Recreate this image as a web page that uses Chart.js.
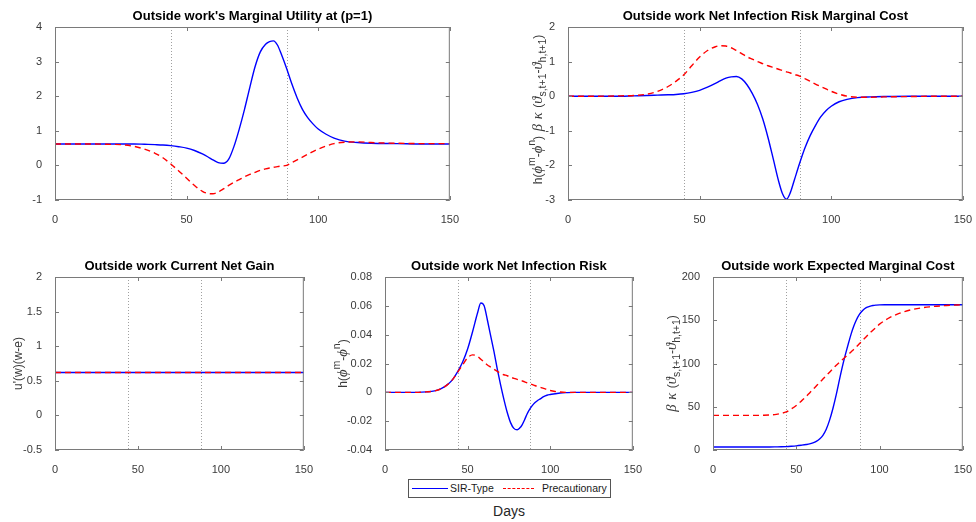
<!DOCTYPE html>
<html>
<head>
<meta charset="utf-8">
<script src="https://cdn.jsdelivr.net/npm/chart.js@4.4.1/dist/chart.umd.min.js"></script>
<style>
	body { margin: 0; background: #fff; width: 976px; height: 522px; position: relative; overflow: hidden; font-family: 'Liberation Sans', Arial, sans-serif; }
	canvas.panel { position: absolute; }
	#legend { position: absolute; left: 408px; top: 479px; width: 201px; height: 17px; border: 1px solid #555; box-sizing: content-box; font-size: 10.5px; color: #1a1a1a; }
	#legend .sample { position: absolute; top: 8px; height: 0; }
	#legend .txt { position: absolute; top: 2px; line-height: 13px; }
	#xlabel { position: absolute; left: 459px; width: 100px; top: 503px; text-align: center; font-size: 14px; color: #262626; }
</style>
</head>
<body>
<canvas class="panel" id="utilityChart"></canvas>
<canvas class="panel" id="riskCostChart"></canvas>
<canvas class="panel" id="gainChart"></canvas>
<canvas class="panel" id="riskChart"></canvas>
<canvas class="panel" id="costChart"></canvas>

<div id="legend">
	<div class="sample" style="left:3px;width:36px;border-top:1.5px solid #0000ff;"></div>
	<div class="txt" style="left:41px;">SIR-Type</div>
	<div class="sample" style="left:94px;width:31px;border-top:1.5px dashed #ff0000;"></div>
	<div class="txt" style="left:133px;">Precautionary</div>
</div>
<div id="xlabel">Days</div>

<script>
// day grid shared by the simulated series (denser around the epidemic peak)
const days = [0, 10, 20, 25, 30, 34, 38, 41, 44, 47, 50, 53, 56, 58, 60, 62, 64, 66, 68, 70, 72, 74, 76, 78, 80, 81.5, 83, 84.5, 86, 88, 90, 92, 94, 96, 98, 100, 103, 106, 110, 115, 120, 130, 140, 150];

// policy dates marked with dotted lines
const markerDays = [44, 88];

// marginal utility of outside work
const utilitySir = [0.62, 0.62, 0.62, 0.62, 0.62, 0.61, 0.60, 0.59, 0.57, 0.54, 0.50, 0.43, 0.33, 0.25, 0.16, 0.08, 0.06, 0.18, 0.55, 1.05, 1.62, 2.25, 2.85, 3.28, 3.50, 3.575, 3.60, 3.48, 3.21, 2.80, 2.35, 1.95, 1.62, 1.38, 1.20, 1.05, 0.90, 0.79, 0.70, 0.66, 0.64, 0.63, 0.62, 0.62];
const utilityPrec = [0.62, 0.62, 0.61, 0.60, 0.55, 0.47, 0.35, 0.22, 0.04, -0.16, -0.37, -0.58, -0.75, -0.81, -0.82, -0.77, -0.68, -0.58, -0.49, -0.41, -0.33, -0.26, -0.20, -0.14, -0.10, -0.075, -0.055, -0.035, -0.02, 0.00, 0.08, 0.16, 0.24, 0.32, 0.40, 0.47, 0.56, 0.63, 0.67, 0.68, 0.66, 0.64, 0.63, 0.63];

// net infection risk marginal cost
const riskCostSir = [0, 0, 0, 0.01, 0.02, 0.03, 0.04, 0.05, 0.07, 0.11, 0.17, 0.26, 0.37, 0.45, 0.52, 0.56, 0.57, 0.50, 0.33, 0.08, -0.24, -0.66, -1.20, -1.82, -2.45, -2.82, -2.98, -2.78, -2.42, -1.94, -1.50, -1.14, -0.85, -0.60, -0.42, -0.29, -0.16, -0.09, -0.04, -0.02, -0.01, 0, 0, 0];
const riskCostPrec = [0, 0, 0.01, 0.02, 0.06, 0.14, 0.28, 0.43, 0.62, 0.88, 1.13, 1.32, 1.43, 1.46, 1.45, 1.40, 1.32, 1.23, 1.14, 1.07, 1.00, 0.94, 0.88, 0.83, 0.78, 0.74, 0.705, 0.67, 0.63, 0.58, 0.51, 0.43, 0.35, 0.28, 0.21, 0.14, 0.06, 0.00, -0.03, -0.03, -0.02, -0.01, 0, 0];

// current net gain is flat over the whole horizon
const gainDays = [0, 150];
const gainSir = [0.62, 0.62];
const gainPrec = [0.62, 0.62];

// net infection risk
const riskSir = [0, 0, 0, 0.0003, 0.001, 0.0025, 0.0055, 0.009, 0.0143, 0.021, 0.030, 0.042, 0.055, 0.062, 0.060, 0.050, 0.039, 0.028, 0.016, 0.005, -0.005, -0.014, -0.021, -0.025, -0.026, -0.0248, -0.0225, -0.019, -0.015, -0.011, -0.008, -0.006, -0.0045, -0.003, -0.002, -0.0015, -0.001, -0.0005, -0.0002, 0, 0, 0, 0, 0];
const riskPrec = [0, 0, 0, 0.0003, 0.001, 0.0025, 0.0055, 0.009, 0.014, 0.019, 0.024, 0.026, 0.025, 0.023, 0.021, 0.019, 0.0175, 0.016, 0.0145, 0.013, 0.0122, 0.0115, 0.0105, 0.0097, 0.009, 0.0085, 0.0079, 0.0073, 0.0066, 0.0058, 0.005, 0.0042, 0.0035, 0.0027, 0.002, 0.0013, 0.0006, 0.0002, 0, 0, 0, 0, 0, 0];

// expected marginal cost
const costSir = [3.5, 3.5, 3.5, 3.5, 3.5, 3.5, 3.6, 3.7, 3.9, 4.3, 4.8, 5.5, 6.3, 7.0, 8.2, 10.0, 12.8, 17.0, 24.0, 34.5, 48, 64, 82, 99, 114, 124.5, 134.5, 143, 150, 157, 161.5, 164.5, 166, 167, 167.5, 167.8, 168, 168, 168, 168, 168, 168, 168, 168];
const costPrec = [40, 40, 40, 40, 40.2, 40.5, 41.2, 42.3, 44, 47.5, 51.5, 56.5, 62, 66, 70, 74, 78, 82, 86, 90, 94, 98, 101.5, 105, 108.5, 111, 113.7, 116.3, 119, 123, 127, 131, 135, 138.5, 142, 145.5, 149.5, 153, 156.5, 160, 162.5, 165.5, 167, 168];

// x axis ticks
const dayTicks = { min: 0, max: 150, step: 50 };

const TEXT = '#3a3a3a';
const FRAME = '#7a7a7a';
const SANS = '"Liberation Sans", Arial, sans-serif';
const SERIF = '"Liberation Serif", "DejaVu Serif", serif';

// margins around the plot area inside each canvas
const M = { left: 60, top: 27, right: 14, bottom: 24 };

// y label pieces: [text, kind] where kind is '' | 'g' (greek) | 'sup' | 'sub' | 'sp' (wide space)
const labelRiskCost = [['h(', ''], ['ϕ', 'g'], ['m', 'sup'], ['-', ''], ['ϕ', 'g'], ['n', 'sup'], [')', ''], [' ', 'sp'], ['β', 'g'], [' ', 'sp'], ['κ', 'g'], [' ', 'sp'], ['(', ''], ['ϑ', 'g'], ['s,t+1', 'sub'], ['-', ''], ['ϑ', 'g'], ['h,t+1', 'sub'], [')', '']];
const labelGain = [["u'(w)(w-e)", '']];
const labelRisk = [['h(', ''], ['ϕ', 'g'], ['m', 'sup'], ['-', ''], ['ϕ', 'g'], ['n', 'sup'], [')', '']];
const labelCost = [['β', 'g'], [' ', 'sp'], ['κ', 'g'], [' ', 'sp'], ['(', ''], ['ϑ', 'g'], ['s,t+1', 'sub'], ['-', ''], ['ϑ', 'g'], ['h,t+1', 'sub'], [')', '']];

let pieceFont = (kind) => {
	if (kind === 'g') { return `italic 14.5px ${SERIF}`; }
	if (kind === 'sup' || kind === 'sub') { return `10.5px ${SANS}`; }
	if (kind === 'sp') { return `17px ${SANS}`; }
	return `12px ${SANS}`;
};

// frame, inward ticks, dotted guides, title and rotated y label
const matlabAxes = {
	id: 'matlabAxes',
	beforeDatasetsDraw (chart) {
		let { ctx, chartArea: a, scales: { x } } = chart;
		ctx.save();
		ctx.strokeStyle = '#a0a0a0';
		ctx.lineWidth = 1;
		ctx.setLineDash([1, 2]);
		markerDays.forEach((d) => {
			let px = Math.round(x.getPixelForValue(d)) + 0.5;
			ctx.beginPath();
			ctx.moveTo(px, a.top);
			ctx.lineTo(px, a.bottom);
			ctx.stroke();
		});
		ctx.restore();
	},
	afterDraw (chart, args, opts) {
		let { ctx, chartArea: a, scales: { x, y } } = chart;
		ctx.save();
		ctx.strokeStyle = FRAME;
		ctx.lineWidth = 1;
		ctx.strokeRect(a.left + 0.5, a.top + 0.5, a.right - a.left - 1, a.bottom - a.top - 1);

		let tl = 4;
		ctx.beginPath();
		x.ticks.forEach((t) => {
			let px = Math.round(x.getPixelForValue(t.value)) + 0.5;
			ctx.moveTo(px, a.bottom); ctx.lineTo(px, a.bottom - tl);
			ctx.moveTo(px, a.top); ctx.lineTo(px, a.top + tl);
		});
		y.ticks.forEach((t) => {
			let py = Math.round(y.getPixelForValue(t.value)) + 0.5;
			ctx.moveTo(a.left, py); ctx.lineTo(a.left + tl, py);
			ctx.moveTo(a.right, py); ctx.lineTo(a.right - tl, py);
		});
		ctx.stroke();

		// title centred over the plot area
		ctx.fillStyle = '#000';
		ctx.font = `bold 13px ${SANS}`;
		ctx.textAlign = 'center';
		ctx.textBaseline = 'middle';
		ctx.fillText(opts.title, (a.left + a.right) / 2, a.top - 11);

		// rotated y label built from styled pieces
		if (opts.yLabel) {
			ctx.textAlign = 'left';
			ctx.textBaseline = 'alphabetic';
			let total = opts.yLabel.reduce((w, [t, k]) => { ctx.font = pieceFont(k); return w + ctx.measureText(t).width; }, 0);
			ctx.translate(a.left - opts.yLabelOffset, (a.top + a.bottom) / 2);
			ctx.rotate(-Math.PI / 2);
			let cx = -total / 2 + (opts.yLabelShift || 0);
			ctx.fillStyle = TEXT;
			opts.yLabel.forEach(([t, k]) => {
				ctx.font = pieceFont(k);
				let dy = k === 'sup' ? -7 : k === 'sub' ? 3.5 : 0;
				ctx.fillText(t, cx, 4 + dy);
				cx += ctx.measureText(t).width;
			});
		}
		ctx.restore();
	},
};

let fmt = (v) => String(Number(v.toFixed(4)));

let toPoints = (xs, ys) => xs.map((d, i) => ({ x: d, y: ys[i] }));

let drawPanel = (id, area, xs, sir, prec, yRange, title, yLabel, yLabelOffset, yLabelShift) => {
	let el = document.getElementById(id);
	el.width = area.width + M.left + M.right;
	el.height = area.height + M.top + M.bottom;
	el.style.left = (area.left - M.left) + 'px';
	el.style.top = (area.top - M.top) + 'px';

	let line = {
		pointRadius: 0,
		borderWidth: 1.4,
		cubicInterpolationMode: 'monotone',
		fill: false,
	};

	return new Chart(el, {
		type: 'line',
		data: {
			datasets: [
				{ ...line, label: 'SIR-Type', data: toPoints(xs, sir), borderColor: '#0000ff', order: 1 },
				{ ...line, label: 'Precautionary', data: toPoints(xs, prec), borderColor: '#ff0000', borderDash: [6, 4], order: 0 },
			],
		},
		options: {
			responsive: false,
			animation: false,
			events: [],
			layout: { padding: { left: 0, top: M.top, right: M.right, bottom: 0 } },
			plugins: {
				legend: { display: false },
				tooltip: { enabled: false },
				matlabAxes: { title, yLabel, yLabelOffset, yLabelShift },
			},
			scales: {
				x: {
					type: 'linear',
					min: dayTicks.min,
					max: dayTicks.max,
					grid: { display: false },
					border: { display: false },
					ticks: { stepSize: dayTicks.step, padding: 5, color: TEXT, font: { family: SANS, size: 11 }, maxRotation: 0, callback: fmt },
					afterFit: (s) => { s.height = M.bottom; },
				},
				y: {
					min: yRange[0],
					max: yRange[1],
					grid: { display: false },
					border: { display: false },
					ticks: { stepSize: yRange[2], padding: 5, color: TEXT, font: { family: SANS, size: 11 }, callback: fmt },
					afterFit: (s) => { s.width = M.left; },
				},
			},
		},
		plugins: [matlabAxes],
	});
};

drawPanel('utilityChart', { left: 55, top: 27, width: 395, height: 173 }, days, utilitySir, utilityPrec, [-1, 4, 1], "Outside work's Marginal Utility at (p=1)", null, 0);
drawPanel('riskCostChart', { left: 568, top: 27, width: 395, height: 173 }, days, riskCostSir, riskCostPrec, [-3, 2, 1], 'Outside work Net Infection Risk Marginal Cost', labelRiskCost, 30, 4);
drawPanel('gainChart', { left: 55, top: 277, width: 249, height: 173 }, gainDays, gainSir, gainPrec, [-0.5, 2, 0.5], 'Outside work Current Net Gain', labelGain, 37);
drawPanel('riskChart', { left: 385, top: 277, width: 248, height: 173 }, days, riskSir, riskPrec, [-0.04, 0.08, 0.02], 'Outside work Net Infection Risk', labelRisk, 42);
drawPanel('costChart', { left: 713, top: 277, width: 250, height: 173 }, days, costSir, costPrec, [0, 200, 50], 'Outside work Expected Marginal Cost', labelCost, 41);
</script>
</body>
</html>
